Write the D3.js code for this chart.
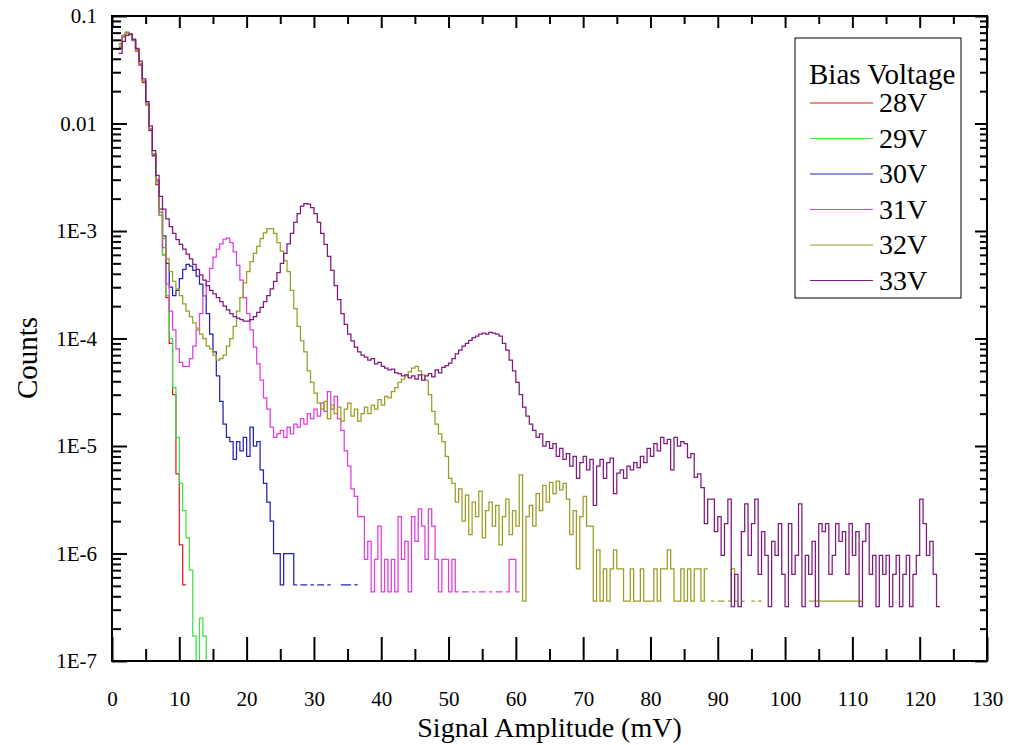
<!DOCTYPE html>
<html>
<head>
<meta charset="utf-8">
<script src="https://cdn.jsdelivr.net/npm/d3@7"></script>
<style>
  body { margin: 0; background: #fff; }
  svg { display: block; }
  .tick text { font-family: "Liberation Serif", "Times New Roman", serif; }
</style>
</head>
<body>
<div id="chart"></div>
<script>
// histogram bins: first bin starts at 1.0 mV, each bin 0.5 mV wide
const binStart = 1.0;
const binWidth = 0.5;

const seriesNames = ["28V", "29V", "30V", "31V", "32V", "33V"];
const seriesColors = ["#d42020", "#3fe03f", "#2323b8", "#e03ce0", "#9c9c24", "#7e1a7e"];

const counts28 = [
  0.055, 0.066, 0.07, 0.067, 0.059, 0.047, 0.035, 0.024, 0.015, 0.0086, 0.005, 0.0027, 0.0014, // 1.0-7.0
  6e-4, 2.4e-4, 9e-5, 3e-5, 5.5e-6, 1.2e-6, 5.1e-7 // 7.5-10.5
];

const counts29 = [
  0.054, 0.065, 0.071, 0.068, 0.06, 0.048, 0.036, 0.025, 0.015, 0.0088, 0.0052, 0.0028, 0.0014, // 1.0-7.0
  6e-4, 2.5e-4, 1e-4, 3.5e-5, 1.2e-5, 4.5e-6, 2.5e-6, 1.4e-6, 7e-7, 1.7e-7, 8e-8, 2.5e-7, 1.7e-7, 8e-8 // 7.5-14.0
];

const counts30 = [
  0.05, 0.064, 0.07, 0.068, 0.06, 0.048, 0.036, 0.025, 0.015, 0.0087, 0.0051, 0.0029, 0.0016, // 1.0-7.0
  9e-4, 5e-4, 3e-4, 2.5e-4, 2.8e-4, 3.6e-4, 4.4e-4, 4.9e-4, 4.7e-4, 4.3e-4, 3.8e-4, 3.2e-4, // 7.5-13.0
  2.5e-4, 1.7e-4, 1.1e-4, 7.5e-5, 4.5e-5, 2.6e-5, 1.6e-5, 1.2e-5, 1.1e-5, 7.5e-6, 1.1e-5, 9e-6, // 13.5-19.0
  1.2e-5, 8e-6, 1.5e-5, 1e-5, 1.1e-5, 6e-6, 4.5e-6, 3e-6, 2e-6, 1e-6, 1e-6, 5.1e-7, // 19.5-25.0
  1e-6, 1e-6, 1e-6, 5.1e-7, 0, 5.1e-7, 5.1e-7, 0, 5.1e-7, 0, 5.1e-7, 5.1e-7, // 25.5-31.0
  0, 5.1e-7, 0, 0, 0, 5.1e-7, 5.1e-7, 5.1e-7, 0, 5.1e-7 // 31.5-36.0
];

const counts31 = [
  0.051, 0.065, 0.07, 0.068, 0.06, 0.049, 0.036, 0.025, 0.0155, 0.009, 0.0052, 0.003, 0.0015, // 1.0-7.0
  7e-4, 3.2e-4, 1.8e-4, 1.2e-4, 8e-5, 6e-5, 5.5e-5, 5.5e-5, 6.5e-5, 8.5e-5, 1.2e-4, 1.7e-4, // 7.5-13.0
  2.5e-4, 3.4e-4, 4.5e-4, 5.7e-4, 6.8e-4, 7.6e-4, 8.4e-4, 8.6e-4, 7.8e-4, 6.4e-4, 4.8e-4, 3.5e-4, // 13.5-19.0
  2.4e-4, 1.7e-4, 1.2e-4, 8.3e-5, 5.8e-5, 4.1e-5, 2.8e-5, 2.2e-5, 1.5e-5, 1.2e-5, 1.3e-5, 1.4e-5, // 19.5-25.0
  1.2e-5, 1.5e-5, 1.3e-5, 1.6e-5, 1.5e-5, 1.8e-5, 1.6e-5, 2e-5, 1.8e-5, 2.2e-5, 1.9e-5, 2.5e-5, // 25.5-31.0
  2.1e-5, 3.2e-5, 2.2e-5, 2.9e-5, 1.8e-5, 1.4e-5, 9e-6, 6.5e-6, 4e-6, 3.4e-6, 2.2e-6, 2.2e-6, // 31.5-37.0
  8.8e-7, 1.3e-6, 4.4e-7, 8.8e-7, 1.8e-6, 4.4e-7, 8.8e-7, 4.4e-7, 8.8e-7, 4.4e-7, 2.2e-6, 8.8e-7, // 37.5-43.0
  1.3e-6, 4.4e-7, 2.2e-6, 1.3e-6, 2.6e-6, 1.8e-6, 8.8e-7, 2.6e-6, 1.8e-6, 8.8e-7, 4.4e-7, 8.8e-7, // 43.5-49.0
  8.8e-7, 4.4e-7, 8.8e-7, 4.4e-7, 0, 4.4e-7, 4.4e-7, 0, 4.4e-7, 0, 4.4e-7, 4.4e-7, // 49.5-55.0
  0, 4.4e-7, 0, 4.4e-7, 4.4e-7, 0, 4.4e-7, 8.8e-7, 8.8e-7, 4.4e-7 // 55.5-60.0
];

const counts32 = [
  0.052, 0.065, 0.07, 0.068, 0.06, 0.048, 0.036, 0.025, 0.015, 0.0088, 0.0052, 0.0029, 0.0016, // 1.0-7.0
  8.5e-4, 5.5e-4, 4.2e-4, 3.4e-4, 2.9e-4, 2.5e-4, 2.1e-4, 1.8e-4, 1.6e-4, 1.4e-4, 1.25e-4, 1.1e-4, // 7.5-13.0
  1e-4, 8.5e-5, 8e-5, 7e-5, 6.3e-5, 6.5e-5, 7e-5, 8.5e-5, 1e-4, 1.3e-4, 1.8e-4, 2.4e-4, // 13.5-19.0
  3.3e-4, 4.2e-4, 5.2e-4, 6.2e-4, 7.2e-4, 8.5e-4, 9.6e-4, 1.05e-3, 1.05e-3, 9.5e-4, 7.8e-4, 6.5e-4, // 19.5-25.0
  5.3e-4, 4.2e-4, 2.8e-4, 1.9e-4, 1.3e-4, 9.5e-5, 7.5e-5, 5e-5, 3.9e-5, 3.1e-5, 2.5e-5, 2.2e-5, // 25.5-31.0
  2.6e-5, 1.8e-5, 2.4e-5, 2e-5, 2.3e-5, 1.7e-5, 2.2e-5, 2.5e-5, 1.9e-5, 2.2e-5, 1.7e-5, 2e-5, // 31.5-37.0
  2.3e-5, 2e-5, 2.4e-5, 2.2e-5, 2.7e-5, 2.4e-5, 2.9e-5, 2.8e-5, 3.2e-5, 3.5e-5, 3.9e-5, 4.2e-5, // 37.5-43.0
  4.5e-5, 4.9e-5, 5.3e-5, 5.5e-5, 5e-5, 4.6e-5, 4.1e-5, 3e-5, 2.1e-5, 1.6e-5, 1.3e-5, 1.1e-5, // 43.5-49.0
  8e-6, 5e-6, 4.5e-6, 3e-6, 4e-6, 2e-6, 3.5e-6, 1.5e-6, 3e-6, 2.2e-6, 3.8e-6, 1.4e-6, // 49.5-55.0
  2.5e-6, 3e-6, 1.8e-6, 2.8e-6, 1.2e-6, 2.2e-6, 3.2e-6, 1.5e-6, 2.5e-6, 1.8e-6, 5.4e-6, 3.6e-7, // 55.5-61.0
  2.2e-6, 2.8e-6, 1.8e-6, 3.6e-6, 2.5e-6, 4.3e-6, 3e-6, 4.6e-6, 3.6e-6, 4.7e-6, 3.9e-6, 4.5e-6, // 61.5-67.0
  3.2e-6, 1.5e-6, 2.5e-6, 7.2e-7, 2.2e-6, 3.4e-6, 1.8e-6, 1.8e-6, 3.6e-7, 1.08e-6, 3.6e-7, 7.2e-7, // 67.5-73.0
  3.6e-7, 7.2e-7, 1.08e-6, 7.2e-7, 7.2e-7, 3.6e-7, 3.6e-7, 7.2e-7, 3.6e-7, 3.6e-7, 7.2e-7, 3.6e-7, // 73.5-79.0
  3.6e-7, 3.6e-7, 7.2e-7, 3.6e-7, 7.2e-7, 7.2e-7, 1.08e-6, 7.2e-7, 3.6e-7, 3.6e-7, 7.2e-7, 3.6e-7, // 79.5-85.0
  7.2e-7, 3.6e-7, 7.2e-7, 7.2e-7, 3.6e-7, 7.2e-7, 0, 3.6e-7, 0, 3.6e-7, 3.6e-7, 0, // 85.5-91.0
  3.6e-7, 7.2e-7, 3.6e-7, 0, 3.6e-7, 0, 0, 3.6e-7, 0, 3.6e-7, 0, 0, // 91.5-97.0
  0, 0, 0, 0, 0, 0, 0, 0, 0, 0, 0, 0, // 97.5-103.0
  3.6e-7, 3.6e-7, 3.6e-7, 3.6e-7, 3.6e-7, 3.6e-7, 3.6e-7, 3.6e-7, 3.6e-7, 3.6e-7, 3.6e-7, 3.6e-7, // 103.5-109.0
  3.6e-7, 3.6e-7, 3.6e-7, 3.6e-7 // 109.5-111.0
];

const counts33 = [
  0.045, 0.058, 0.066, 0.068, 0.061, 0.05, 0.038, 0.026, 0.016, 0.0095, 0.0056, 0.0033, 0.0021, // 1.0-7.0
  1.6e-3, 1.3e-3, 1.1e-3, 9.5e-4, 8.3e-4, 7.5e-4, 6.8e-4, 6.1e-4, 5.5e-4, 4.9e-4, 4.4e-4, 3.9e-4, // 7.5-13.0
  3.5e-4, 3.1e-4, 2.8e-4, 2.6e-4, 2.4e-4, 2.2e-4, 2e-4, 1.85e-4, 1.7e-4, 1.6e-4, 1.55e-4, 1.5e-4, // 13.5-19.0
  1.45e-4, 1.45e-4, 1.5e-4, 1.6e-4, 1.75e-4, 1.95e-4, 2.2e-4, 2.5e-4, 2.9e-4, 3.4e-4, 4.1e-4, 5e-4, // 19.5-25.0
  6.2e-4, 7.6e-4, 9.5e-4, 1.2e-3, 1.45e-3, 1.7e-3, 1.8e-3, 1.78e-3, 1.65e-3, 1.45e-3, 1.2e-3, 9.5e-4, // 25.5-31.0
  7.5e-4, 5.8e-4, 4.3e-4, 3.1e-4, 2.3e-4, 1.7e-4, 1.35e-4, 1.1e-4, 9.5e-5, 8.3e-5, 7.5e-5, 7e-5, // 31.5-37.0
  6.7e-5, 6.3e-5, 6.5e-5, 5.8e-5, 6e-5, 5.5e-5, 5.3e-5, 5.1e-5, 5.2e-5, 4.8e-5, 4.7e-5, 4.5e-5, // 37.5-43.0
  4.6e-5, 4.3e-5, 4.5e-5, 4.2e-5, 4.6e-5, 4.1e-5, 4.5e-5, 4.7e-5, 4.4e-5, 5.1e-5, 4.8e-5, 5.4e-5, // 43.5-49.0
  5.6e-5, 5.9e-5, 6.5e-5, 7.2e-5, 7.8e-5, 8.5e-5, 9e-5, 9.6e-5, 1.02e-4, 1.05e-4, 1.1e-4, 1.12e-4, // 49.5-55.0
  1.1e-4, 1.14e-4, 1.12e-4, 1.1e-4, 1.05e-4, 9e-5, 7.8e-5, 6.3e-5, 5e-5, 3.9e-5, 3e-5, 2.3e-5, // 55.5-61.0
  1.9e-5, 1.6e-5, 1.4e-5, 1.2e-5, 1.3e-5, 1e-5, 1.1e-5, 9.5e-6, 1.05e-5, 8e-6, 9.5e-6, 7.5e-6, // 61.5-67.0
  8.5e-6, 6.5e-6, 8e-6, 5e-6, 7e-6, 8e-6, 6e-6, 7.5e-6, 2.8e-6, 6.5e-6, 7.5e-6, 5e-6, // 67.5-73.0
  7e-6, 7.7e-6, 3.6e-6, 5.6e-6, 6e-6, 5e-6, 6.5e-6, 6e-6, 7e-6, 6.3e-6, 8e-6, 7e-6, // 73.5-79.0
  9.5e-6, 8e-6, 1.05e-5, 9e-6, 1.2e-5, 1.05e-5, 1.15e-5, 6e-6, 1.2e-5, 1e-5, 1.1e-5, 1.05e-5, // 79.5-85.0
  7.8e-6, 8.5e-6, 5.1e-6, 5.5e-6, 4.1e-6, 1.9e-6, 3.2e-6, 3.2e-6, 1.6e-6, 2.2e-6, 9.6e-7, 1.9e-6, // 85.5-91.0
  3.2e-6, 3.2e-7, 6.4e-7, 3.2e-7, 1.6e-6, 2.9e-6, 9.6e-7, 1.9e-6, 3.2e-6, 6.4e-7, 1.6e-6, 9.6e-7, // 91.5-97.0
  3.2e-7, 1.3e-6, 9.6e-7, 1.9e-6, 6.4e-7, 3.2e-7, 1.9e-6, 6.4e-7, 9.6e-7, 2.9e-6, 3.2e-7, 9.6e-7, // 97.5-103.0
  6.4e-7, 1.3e-6, 3.2e-7, 1.9e-6, 1.6e-6, 1.9e-6, 6.4e-7, 9.6e-7, 1.9e-6, 1.3e-6, 1.6e-6, 6.4e-7, // 103.5-109.0
  1.9e-6, 9.6e-7, 1.6e-6, 3.2e-7, 1.3e-6, 1.9e-6, 6.4e-7, 9.6e-7, 3.2e-7, 9.6e-7, 6.4e-7, 9.6e-7, // 109.5-115.0
  3.2e-7, 6.4e-7, 9.6e-7, 3.2e-7, 6.4e-7, 9.6e-7, 3.2e-7, 6.4e-7, 9.6e-7, 3.2e-6, 1.9e-6, 9.6e-7, // 115.5-121.0
  1.3e-6, 6.4e-7, 3.2e-7 // 121.5-122.5
];

const seriesCounts = [counts28, counts29, counts30, counts31, counts32, counts33];

const xMajorTicks = [0, 10, 20, 30, 40, 50, 60, 70, 80, 90, 100, 110, 120, 130];
const xMinorTicks = [5, 15, 25, 35, 45, 55, 65, 75, 85, 95, 105, 115, 125];
const yMajorTicks = [1e-7, 1e-6, 1e-5, 1e-4, 1e-3, 0.01, 0.1];
const yTickLabels = ["1E-7", "1E-6", "1E-5", "1E-4", "1E-3", "0.01", "0.1"];
const yMinorTicks = [];
[-7, -6, -5, -4, -3, -2].forEach(p => {
    [2, 3, 4, 5, 6, 7, 8, 9].forEach(m => yMinorTicks.push(m * Math.pow(10, p)));
});

const width = 1010, height = 745;
const plot = { left: 112, top: 16, right: 987, bottom: 661 };
const serif = '"Liberation Serif", "Times New Roman", serif';

const svg = d3.select("#chart")
    .append("svg")
    .attr("width", width)
    .attr("height", height);

const x = d3.scaleLinear().domain([0, 130]).range([plot.left, plot.right]);
const y = d3.scaleLog().domain([1e-7, 0.1]).range([plot.bottom, plot.top]);

svg.append("defs").append("clipPath")
    .attr("id", "plotClip")
    .append("rect")
    .attr("x", plot.left)
    .attr("y", plot.top)
    .attr("width", plot.right - plot.left)
    .attr("height", plot.bottom - plot.top);

// step histogram: two points per bin, gaps where a bin is empty
function binPoints(vals) {
    const pts = [];
    vals.forEach((v, i) => {
        const x0 = binStart + i * binWidth;
        pts.push({ x: x0, v: v });
        pts.push({ x: x0 + binWidth, v: v });
    });
    return pts;
}

const line = d3.line()
    .defined(d => d.v > 0)
    .x(d => x(d.x))
    .y(d => y(d.v));

const lines = svg.append("g").attr("clip-path", "url(#plotClip)");
seriesCounts.forEach((vals, i) => {
    lines.append("path")
        .datum(binPoints(vals))
        .attr("fill", "none")
        .attr("stroke", seriesColors[i])
        .attr("stroke-width", 1.25)
        .attr("d", line);
});

// axes, ticks pointing inward
function styleAxis(g) {
    g.select(".domain").remove();
    g.selectAll(".tick line").attr("stroke", "#000").attr("stroke-width", 2);
    g.selectAll(".tick text")
        .attr("fill", "#000")
        .style("font-family", serif)
        .style("font-size", "21px");
}

svg.append("g")
    .attr("transform", `translate(0,${plot.bottom})`)
    .call(d3.axisBottom(x).tickValues(xMajorTicks).tickSize(-24).tickPadding(30))
    .call(styleAxis);
svg.append("g")
    .attr("transform", `translate(0,${plot.bottom})`)
    .call(d3.axisBottom(x).tickValues(xMinorTicks).tickSize(-12).tickFormat(""))
    .call(styleAxis);
svg.append("g")
    .attr("transform", `translate(0,${plot.top})`)
    .call(d3.axisTop(x).tickValues(xMajorTicks).tickSize(-12).tickFormat(""))
    .call(styleAxis);
svg.append("g")
    .attr("transform", `translate(0,${plot.top})`)
    .call(d3.axisTop(x).tickValues(xMinorTicks).tickSize(-8).tickFormat(""))
    .call(styleAxis);

svg.append("g")
    .attr("transform", `translate(${plot.left},0)`)
    .call(d3.axisLeft(y).tickValues(yMajorTicks).tickSize(-15).tickPadding(15)
        .tickFormat((d, i) => yTickLabels[i]))
    .call(styleAxis);
svg.append("g")
    .attr("transform", `translate(${plot.left},0)`)
    .call(d3.axisLeft(y).tickValues(yMinorTicks).tickSize(-9).tickFormat(""))
    .call(styleAxis);
svg.append("g")
    .attr("transform", `translate(${plot.right},0)`)
    .call(d3.axisRight(y).tickValues(yMajorTicks).tickSize(-12).tickFormat(""))
    .call(styleAxis);
svg.append("g")
    .attr("transform", `translate(${plot.right},0)`)
    .call(d3.axisRight(y).tickValues(yMinorTicks).tickSize(-7).tickFormat(""))
    .call(styleAxis);

// frame
svg.append("rect")
    .attr("x", plot.left)
    .attr("y", plot.top)
    .attr("width", plot.right - plot.left)
    .attr("height", plot.bottom - plot.top)
    .attr("fill", "none")
    .attr("stroke", "#000")
    .attr("stroke-width", 2);

// axis titles
svg.append("text")
    .attr("x", (plot.left + plot.right) / 2)
    .attr("y", 737)
    .attr("text-anchor", "middle")
    .style("font-family", serif)
    .style("font-size", "28px")
    .text("Signal Amplitude (mV)");

svg.append("text")
    .attr("transform", "translate(37,358) rotate(-90)")
    .attr("text-anchor", "middle")
    .style("font-family", serif)
    .style("font-size", "29px")
    .text("Counts");

// legend
const legend = svg.append("g");
legend.append("rect")
    .attr("x", 795)
    .attr("y", 38)
    .attr("width", 166)
    .attr("height", 260)
    .attr("fill", "#fff")
    .attr("stroke", "#000")
    .attr("stroke-width", 1);
legend.append("text")
    .attr("x", 809)
    .attr("y", 84)
    .style("font-family", serif)
    .style("font-size", "29px")
    .text("Bias Voltage");

seriesNames.forEach((name, i) => {
    const ly = 103 + i * 35.5;
    legend.append("line")
        .attr("x1", 810).attr("x2", 873)
        .attr("y1", ly).attr("y2", ly)
        .attr("stroke", seriesColors[i])
        .attr("stroke-width", 1.2);
    legend.append("text")
        .attr("x", 879)
        .attr("y", ly + 9)
        .style("font-family", serif)
        .style("font-size", "28px")
        .text(name);
});
</script>
</body>
</html>
